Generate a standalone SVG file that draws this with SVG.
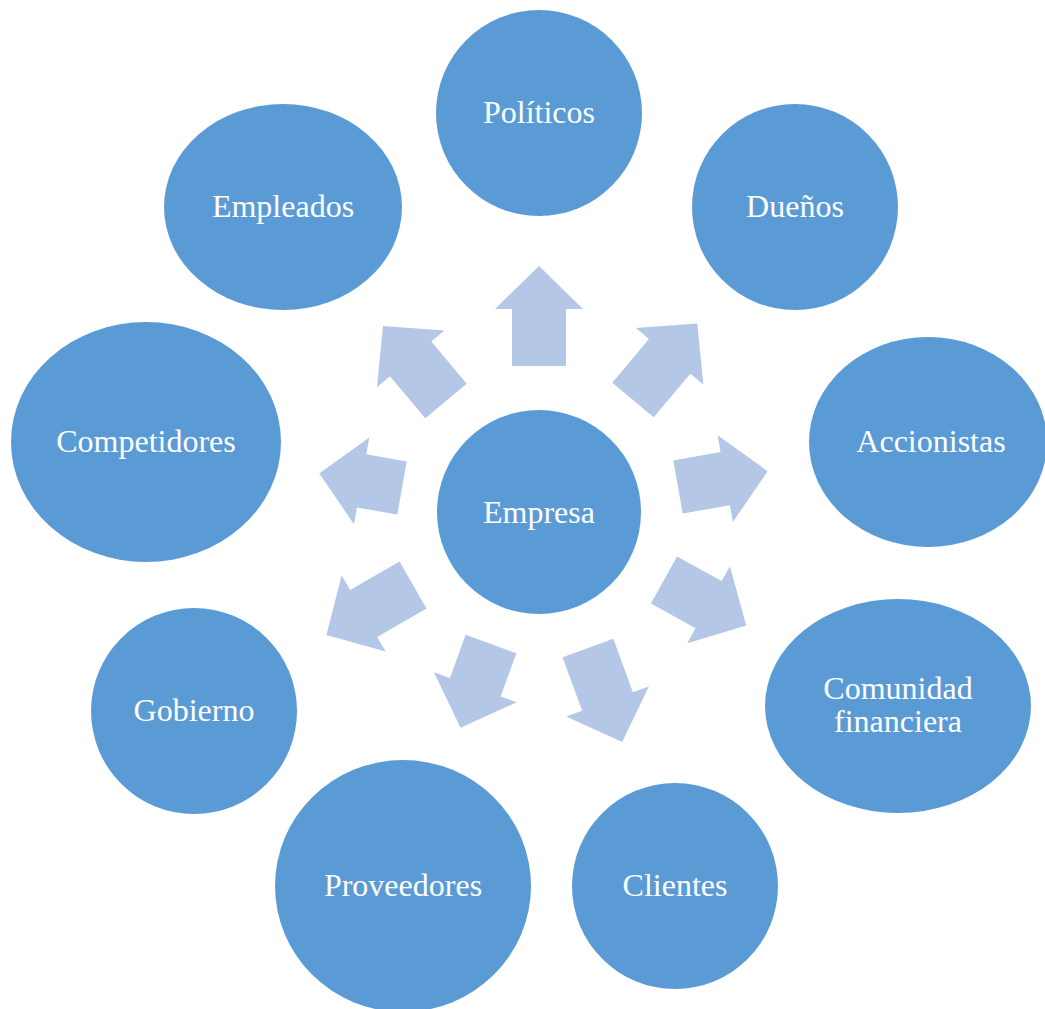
<svg xmlns="http://www.w3.org/2000/svg" width="1045" height="1009" viewBox="0 0 1045 1009">
<style>
.n{fill:#5B9BD5}
.a{fill:#B4C7E7}
text{font-family:"Liberation Serif","Times New Roman",serif;font-size:32px;fill:#FFFFFF;text-anchor:middle}
</style>
<rect width="1045" height="1009" fill="#FFFFFF"/>
<g id="connectors">
<polygon class="a" transform="translate(539,366) rotate(-90)" points="0,-27 57,-27 57,-44 100,0 57,44 57,27 0,27"/>
<polygon class="a" transform="translate(633,400) rotate(-50)" points="0,-27 57,-27 57,-44 100,0 57,44 57,27 0,27"/>
<polygon class="a" transform="translate(678,487) rotate(-10)" points="0,-27 48,-27 48,-44 91,0 48,44 48,27 0,27"/>
<polygon class="a" transform="translate(664,580) rotate(29)" points="0,-27 51,-27 51,-44 94,0 51,44 51,27 0,27"/>
<polygon class="a" transform="translate(588,648) rotate(70)" points="0,-27 57,-27 57,-44 100,0 57,44 57,27 0,27"/>
<polygon class="a" transform="translate(491,644) rotate(110)" points="0,-27 46,-27 46,-44 89,0 46,44 46,27 0,27"/>
<polygon class="a" transform="translate(413,585) rotate(150)" points="0,-27 57,-27 57,-44 100,0 57,44 57,27 0,27"/>
<polygon class="a" transform="translate(402,488) rotate(190)" points="0,-27 41,-27 41,-44 84,0 41,44 41,27 0,27"/>
<polygon class="a" transform="translate(446,401) rotate(230)" points="0,-27 55,-27 55,-44 98,0 55,44 55,27 0,27"/>
</g>
<g id="empresa"><circle class="n" cx="539" cy="512" r="102"/><text x="539" y="523">Empresa</text></g>
<g id="politicos"><circle class="n" cx="539" cy="113" r="103"/><text x="539" y="123">Políticos</text></g>
<g id="duenos"><circle class="n" cx="795" cy="207" r="103"/><text x="795" y="217">Dueños</text></g>
<g id="accionistas"><ellipse class="n" cx="928" cy="442" rx="119" ry="105"/><text x="931" y="452">Accionistas</text></g>
<g id="comunidad"><ellipse class="n" cx="898" cy="706" rx="133" ry="107"/><text x="898" y="699">Comunidad</text><text x="898" y="732">financiera</text></g>
<g id="clientes"><circle class="n" cx="675" cy="886" r="103"/><text x="675" y="896">Clientes</text></g>
<g id="proveedores"><ellipse class="n" cx="403" cy="886" rx="128" ry="126"/><text x="403" y="896">Proveedores</text></g>
<g id="gobierno"><circle class="n" cx="194" cy="711" r="103"/><text x="194" y="721">Gobierno</text></g>
<g id="competidores"><ellipse class="n" cx="146" cy="442" rx="135" ry="120"/><text x="146" y="452">Competidores</text></g>
<g id="empleados"><ellipse class="n" cx="283" cy="207" rx="119" ry="103"/><text x="283" y="217">Empleados</text></g>
</svg>
